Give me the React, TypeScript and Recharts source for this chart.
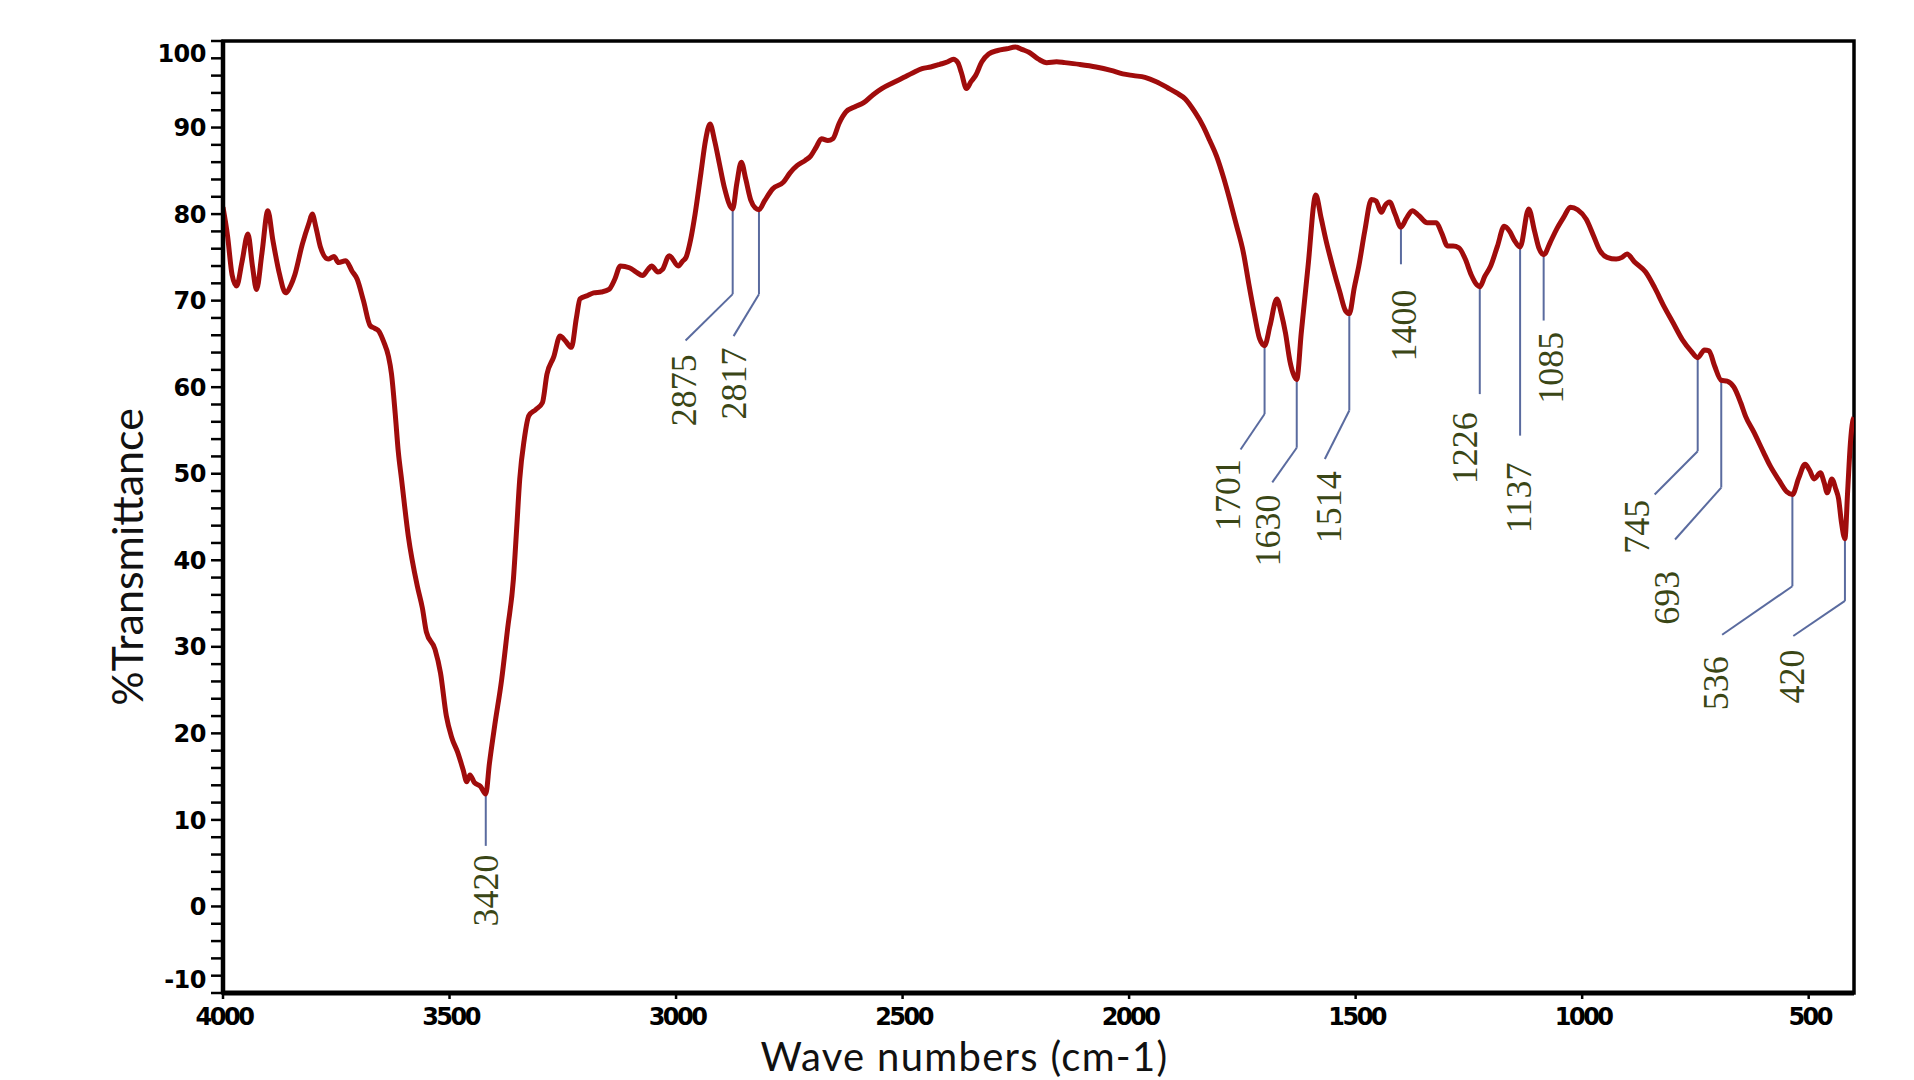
import React from 'react';
import {
  LineChart,
  Line,
  XAxis,
  YAxis,
  ReferenceArea,
  ReferenceLine,
  ReferenceDot,
} from 'recharts';

// ---- Spectrum data ----
const wavenumbers = [
  4000, 3990, 3980, 3970, 3958, 3945, 3935, 3926, 3914, 3901, 3890, 3875, 3862, 3850, 3842,
  3825, 3810, 3803, 3795, 3785, 3768, 3755, 3745, 3729, 3715, 3704, 3690, 3675, 3665, 3655,
  3645, 3635, 3628, 3620, 3613, 3606, 3591, 3571, 3560, 3551, 3532, 3520, 3507, 3495, 3482,
  3470, 3462, 3455, 3445, 3432, 3420, 3412, 3400, 3385, 3372, 3359, 3352, 3345, 3335, 3325,
  3310, 3295, 3285, 3270, 3256, 3245, 3231, 3220, 3212, 3195, 3182, 3165, 3148, 3135, 3123,
  3103, 3088, 3074, 3062, 3054, 3040, 3030, 3015, 2995, 2985, 2978, 2968, 2958, 2945, 2935,
  2925, 2915, 2905, 2893, 2875, 2866, 2856, 2846, 2835, 2825, 2817, 2805, 2787, 2763, 2748,
  2733, 2715, 2703, 2690, 2679, 2665, 2654, 2640, 2625, 2605, 2585, 2565, 2546, 2520, 2497,
  2478, 2457, 2438, 2418, 2400, 2388, 2378, 2370, 2359, 2349, 2339, 2325, 2310, 2290, 2270,
  2251, 2235, 2221, 2200, 2182, 2160, 2142, 2110, 2073, 2040, 2014, 1990, 1965, 1940, 1915,
  1895, 1876, 1855, 1837, 1822, 1807, 1792, 1778, 1763, 1748, 1736, 1724, 1712, 1701, 1689,
  1674, 1664, 1655, 1645, 1630, 1620, 1605, 1588, 1576, 1566, 1551, 1535, 1522, 1514, 1503,
  1493, 1480, 1465, 1455, 1443, 1435, 1425, 1413, 1400, 1388, 1375, 1360, 1342, 1322, 1310,
  1297, 1285, 1272, 1258, 1245, 1232, 1226, 1215, 1202, 1187, 1172, 1160, 1150, 1137, 1118,
  1105, 1095, 1085, 1070, 1056, 1040, 1026, 1010, 991, 975, 961, 945, 925, 912, 901,
  885, 860, 840, 820, 800, 779, 760, 745, 730, 720, 708, 693, 680, 665, 650,
  639, 621, 600, 585, 565, 548, 536, 522, 508, 498, 488, 474, 466, 459, 449,
  440, 434, 428, 420, 414, 408, 403, 400,
];

const transmittance = [
  80.8, 77.5, 73.0, 71.7, 74.5, 77.7, 74.0, 71.3, 75.5, 80.4, 77.0, 73.0, 70.9, 71.8, 72.9,
  76.5, 79.0, 80.0, 78.5, 76.2, 74.8, 75.1, 74.4, 74.6, 73.4, 72.5, 70.0, 67.1, 66.8, 66.4,
  65.2, 63.6, 61.5, 57.0, 52.5, 49.4, 42.8, 37.0, 34.5, 31.7, 29.7, 27.0, 22.0, 19.5, 17.8,
  15.8, 14.4, 15.2, 14.3, 13.9, 13.0, 16.5, 21.0, 26.2, 32.0, 37.8, 43.5, 49.4, 54.0, 56.7,
  57.4, 58.2, 61.5, 63.5, 65.9, 65.4, 64.6, 68.0, 70.2, 70.6, 70.9, 71.0, 71.3, 72.5, 74.0,
  73.8, 73.3, 72.9, 73.6, 74.0, 73.3, 73.6, 75.2, 74.0, 74.6, 75.0, 77.0, 80.0, 84.8, 88.5,
  90.4, 88.5, 86.0, 83.0, 80.6, 83.5, 86.0, 84.0, 81.6, 80.7, 80.5, 81.5, 82.9, 83.7, 84.8,
  85.6, 86.2, 86.7, 87.8, 88.7, 88.5, 88.7, 90.5, 91.8, 92.4, 92.9, 93.8, 94.5, 95.2, 95.8,
  96.3, 96.8, 97.0, 97.3, 97.6, 97.9, 97.5, 96.3, 94.5, 95.3, 96.0, 97.6, 98.5, 98.9, 99.1,
  99.3, 99.0, 98.7, 97.9, 97.5, 97.6, 97.5, 97.3, 97.0, 96.6, 96.2, 96.0, 95.8, 95.3, 94.6,
  94.0, 93.3, 91.8, 90.2, 88.5, 86.7, 84.3, 81.7, 78.7, 75.6, 72.0, 68.6, 65.6, 64.8, 67.1,
  70.2, 68.5, 66.3, 63.0, 60.9, 66.3, 74.0, 82.2, 79.5, 77.1, 74.0, 71.0, 68.8, 68.5, 71.5,
  74.0, 78.0, 81.7, 81.5, 80.2, 81.0, 81.4, 80.0, 78.5, 79.5, 80.4, 79.8, 79.0, 79.0, 77.8,
  76.3, 76.3, 76.1, 74.8, 73.0, 71.8, 71.6, 72.8, 74.0, 76.3, 78.6, 78.0, 77.0, 76.2, 80.6,
  78.0, 76.0, 75.3, 76.8, 78.3, 79.7, 80.8, 80.5, 79.4, 77.5, 75.8, 75.0, 74.8, 75.0, 75.4,
  74.5, 73.3, 71.5, 69.4, 67.5, 65.5, 64.2, 63.4, 64.3, 64.2, 62.5, 60.8, 60.7, 60.0, 58.2,
  56.6, 54.8, 52.5, 50.9, 49.2, 47.9, 47.6, 49.5, 51.1, 50.4, 49.4, 50.1, 49.0, 47.8, 49.4,
  48.2, 47.1, 44.5, 42.5, 48.0, 53.5, 56.0, 56.5,
];

const xTicks = [4000, 3500, 3000, 2500, 2000, 1500, 1000, 500];
const yTicks = [
  -10, -8, -6, -4, -2, 0, 2, 4, 6, 8, 10, 12, 14, 16, 18, 20, 22, 24, 26, 28, 30, 32, 34, 36,
  38, 40, 42, 44, 46, 48, 50, 52, 54, 56, 58, 60, 62, 64, 66, 68, 70, 72, 74, 76, 78, 80, 82,
  84, 86, 88, 90, 92, 94, 96, 98, 100,
];

// Peak labels and their wavenumbers
const peakLabels = ['3420', '2875', '2817', '1701', '1630', '1514', '1400', '1226', '1137', '1085', '745', '693', '536', '420'];
const peakWavenumbers = [3420, 2875, 2817, 1701, 1630, 1514, 1400, 1226, 1137, 1085, 745, 693, 536, 420];

// Leader-line layout (in data units): elbow level, end of diagonal, label anchor
const annotationLayout = [
  { elbowT: 7.0, endWn: 3420, endT: 7.0, labelWn: 3420, labelT: 6.0 },
  { elbowT: 70.75, endWn: 2979, endT: 65.4, labelWn: 2984, labelT: 63.8 },
  { elbowT: 70.75, endWn: 2873, endT: 65.9, labelWn: 2873, labelT: 64.6 },
  { elbowT: 56.9, endWn: 1754, endT: 52.8, labelWn: 1783, labelT: 51.7 },
  { elbowT: 53.0, endWn: 1684, endT: 49.0, labelWn: 1694, labelT: 47.6 },
  { elbowT: 57.3, endWn: 1568, endT: 51.7, labelWn: 1561, labelT: 50.3 },
  { elbowT: 74.2, endWn: 1400, endT: 74.2, labelWn: 1394, labelT: 71.3 },
  { elbowT: 59.2, endWn: 1226, endT: 59.2, labelWn: 1259, labelT: 57.1 },
  { elbowT: 54.4, endWn: 1137, endT: 54.4, labelWn: 1140, labelT: 51.3 },
  { elbowT: 67.7, endWn: 1085, endT: 67.7, labelWn: 1071, labelT: 66.4 },
  { elbowT: 52.6, endWn: 840, endT: 47.6, labelWn: 881, labelT: 47.0 },
  { elbowT: 48.4, endWn: 795, endT: 42.4, labelWn: 815, labelT: 38.8 },
  { elbowT: 37.0, endWn: 691, endT: 31.4, labelWn: 705, labelT: 28.9 },
  { elbowT: 35.3, endWn: 534, endT: 31.25, labelWn: 539, labelT: 29.7 },
];

const data = wavenumbers.map((wn, i) => ({ wn, t: transmittance[i] }));

const LEADER = '#5a6b9f';
const LABEL_COLOR = '#3a4616';

const YTick = (props: any) => {
  const { x, y, payload } = props;
  const v = payload.value;
  if (v % 10 !== 0) return <g />;
  const shift = v === 100 ? 12 : v === -10 ? -14 : 0;
  return (
    <text
      x={x}
      y={y + shift}
      dy="0.36em"
      textAnchor="end"
      fontFamily="DejaVu Sans"
      fontWeight="bold"
      fontSize={24}
      letterSpacing={-0.5}
      fill="#000"
    >
      {v}
    </text>
  );
};

const XTick = (props: any) => {
  const { x, y, payload } = props;
  return (
    <text
      x={x + 1}
      y={y}
      dy="0.71em"
      textAnchor="middle"
      fontFamily="DejaVu Sans"
      fontWeight="bold"
      fontSize={24}
      letterSpacing={-2.5}
      fill="#000"
    >
      {payload.value}
    </text>
  );
};

const YLabel = (props: any) => {
  const vb = props.viewBox || { x: 0, y: 33, width: 215, height: 952 };
  const cx = vb.x + 135;
  const cy = vb.y + vb.height / 2 + 40;
  return (
    <text
      x={cx}
      y={cy}
      transform={`rotate(-90 ${cx} ${cy})`}
      textAnchor="middle"
      fontFamily="Lato"
      fontSize={43}
      fill="#111"
    >
      %Transmittance
    </text>
  );
};

const XLabel = (props: any) => {
  const vb = props.viewBox || { x: 215, y: 985, width: 1631, height: 40 };
  const cx = vb.x + vb.width / 2 - 74;
  const cy = vb.y + 78;
  return (
    <text
      x={cx}
      y={cy}
      textAnchor="middle"
      fontFamily="Lato"
      fontSize={40}
      letterSpacing={1.3}
      fill="#111"
    >
      Wave numbers (cm-1)
    </text>
  );
};

const makePeakText = (label: string) => (props: any) => {
  const { cx, cy } = props;
  return (
    <text
      x={cx}
      y={cy}
      dy="0.35em"
      transform={`rotate(-90 ${cx} ${cy})`}
      textAnchor="end"
      fontFamily="Liberation Serif"
      fontSize={36}
      fill={LABEL_COLOR}
    >
      {label}
    </text>
  );
};

export default function App() {
  const verticals = peakWavenumbers.map((wn, i) => {
    const idx = wavenumbers.indexOf(wn);
    const startT = transmittance[idx];
    const lay = annotationLayout[i];
    return (
      <ReferenceLine
        key={`v-${i}`}
        segment={[
          { x: wn, y: startT },
          { x: wn, y: lay.elbowT },
        ]}
        stroke={LEADER}
        strokeWidth={2}
      />
    );
  });

  const diagonals = peakWavenumbers.map((wn, i) => {
    const lay = annotationLayout[i];
    if (lay.endWn === wn) return null;
    return (
      <ReferenceLine
        key={`d-${i}`}
        segment={[
          { x: wn, y: lay.elbowT },
          { x: lay.endWn, y: lay.endT },
        ]}
        stroke={LEADER}
        strokeWidth={2}
      />
    );
  }).filter(Boolean);

  const texts = peakLabels.map((label, i) => {
    const lay = annotationLayout[i];
    return (
      <ReferenceDot
        key={`t-${i}`}
        x={lay.labelWn}
        y={lay.labelT}
        r={0}
        shape={makePeakText(label)}
      />
    );
  });

  return (
    <div style={{ width: 1898, height: 1072, background: '#fff' }}>
      <LineChart
        width={1898}
        height={1072}
        data={data}
        margin={{ top: 33, right: 52, left: 0, bottom: 47 }}
      >
        <ReferenceArea
          x1={400}
          x2={4000}
          y1={-10}
          y2={100}
          fill="none"
          stroke="#000"
          strokeWidth={3.5}
          ifOverflow="visible"
        />
        <XAxis
          dataKey="wn"
          type="number"
          domain={[400, 4000]}
          reversed
          ticks={xTicks}
          interval={0}
          allowDataOverflow
          height={40}
          axisLine={{ stroke: '#000', strokeWidth: 5 }}
          tickLine={{ stroke: '#000', strokeWidth: 2.5 }}
          tickSize={6}
          tickMargin={9}
          tick={<XTick />}
          label={<XLabel />}
        />
        <YAxis
          type="number"
          domain={[-10, 100]}
          ticks={yTicks}
          interval={0}
          allowDataOverflow
          width={215}
          axisLine={{ stroke: '#000', strokeWidth: 4.5 }}
          tickLine={{ stroke: '#000', strokeWidth: 2.5 }}
          tickSize={12}
          tickMargin={5}
          tick={<YTick />}
          label={<YLabel />}
        />
        {verticals}
        {diagonals}
        <Line
          type="monotone"
          dataKey="t"
          stroke="#a00c0c"
          strokeWidth={5}
          dot={false}
          activeDot={false}
          isAnimationActive={false}
          strokeLinejoin="round"
        />
        {texts}
      </LineChart>
    </div>
  );
}
